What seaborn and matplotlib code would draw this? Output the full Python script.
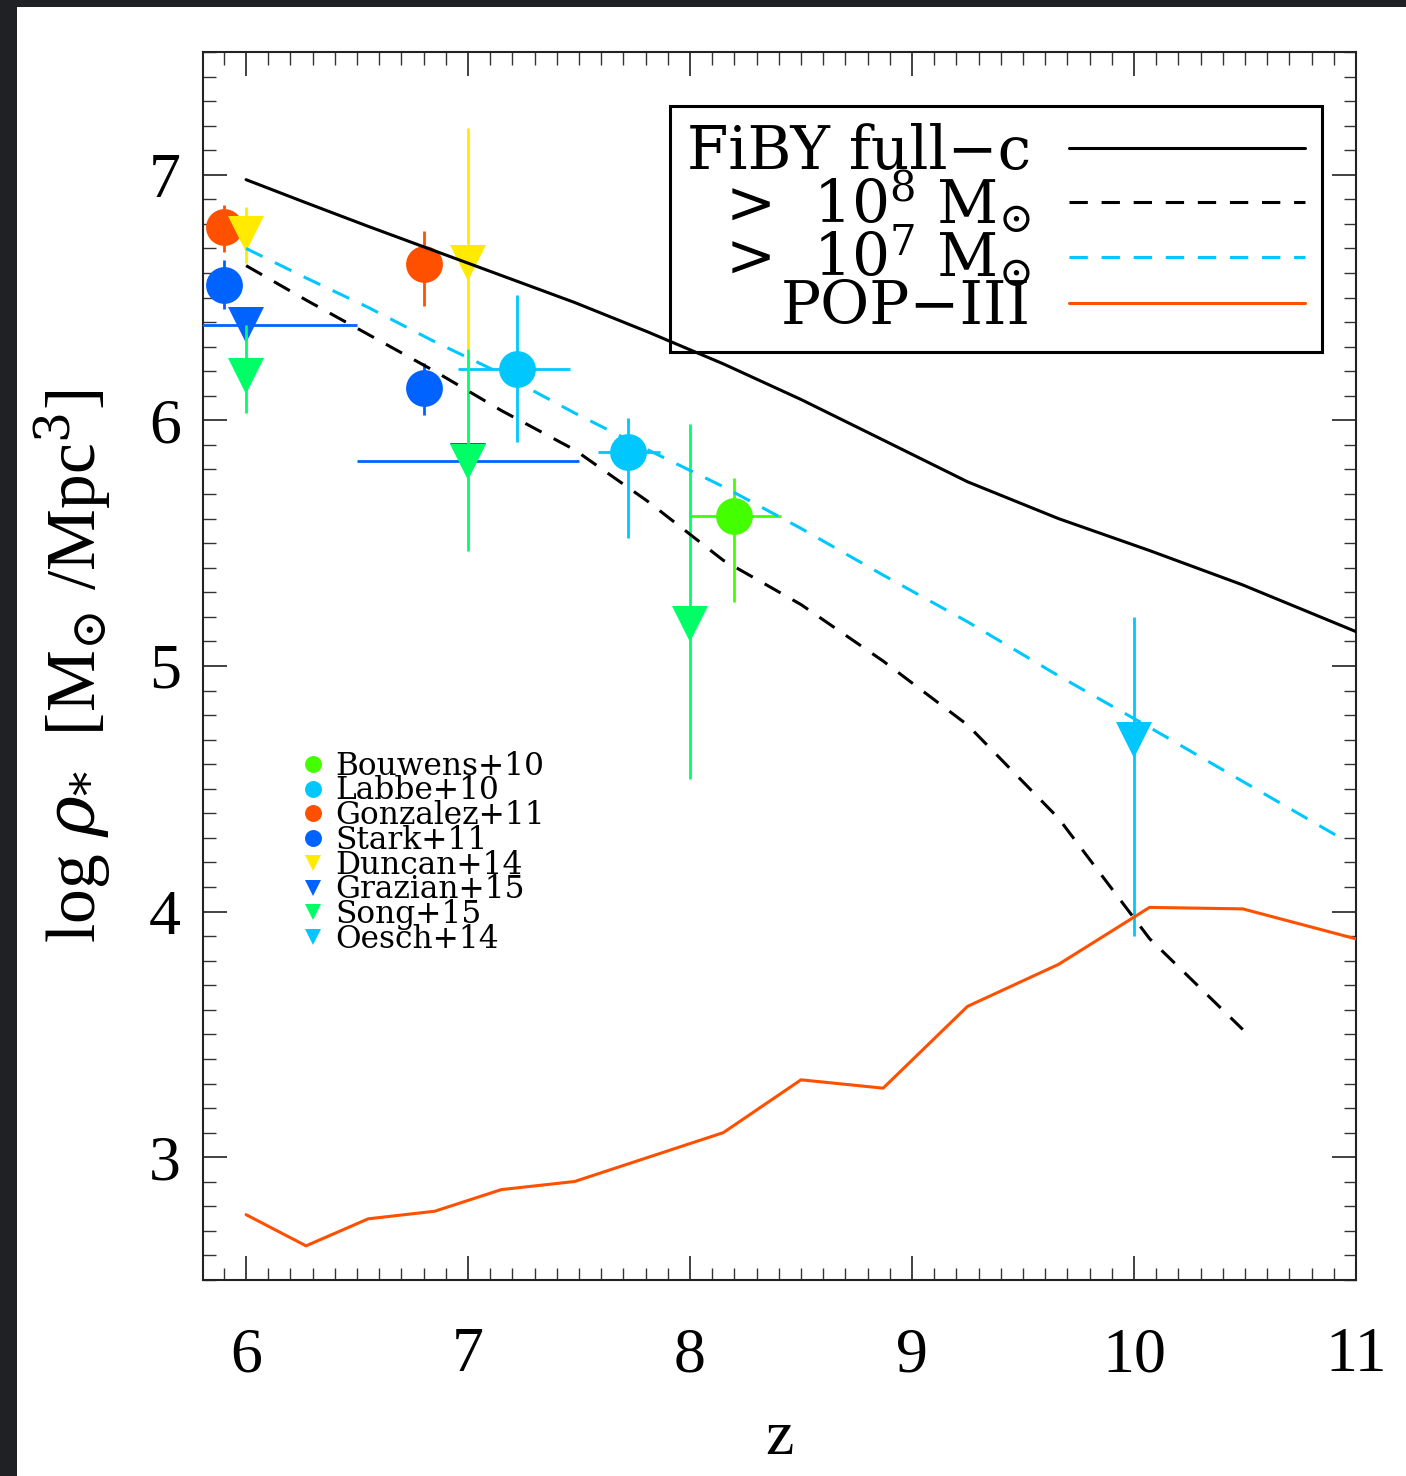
import matplotlib
matplotlib.use("Agg")
import matplotlib.pyplot as plt
import seaborn as sns
import numpy as np
import pandas as pd
from matplotlib.patches import Rectangle
from matplotlib.ticker import MultipleLocator

# ---------------- model curves (FiBY) ----------------
z_full = [6.0, 6.27, 6.55, 6.85, 7.15, 7.48, 7.81, 8.15, 8.5, 8.87, 9.25, 9.66, 10.07, 10.49, 11.0]
rho_full = [6.98, 6.886, 6.79, 6.69, 6.59, 6.48, 6.36, 6.23, 6.085, 5.92, 5.75, 5.60, 5.47, 5.33, 5.14]

z_m8 = [6.0, 6.27, 6.55, 6.85, 7.15, 7.48, 7.81, 8.15, 8.5, 8.87, 9.25, 9.66, 10.07, 10.49]
rho_m8 = [6.63, 6.49, 6.35, 6.20, 6.04, 5.88, 5.67, 5.43, 5.25, 5.02, 4.76, 4.38, 3.89, 3.52]

z_m7 = [6.0, 6.27, 6.55, 6.85, 7.15, 7.48, 7.81, 8.15, 8.5, 8.87, 9.25, 9.66, 10.07, 10.49, 10.95]
rho_m7 = [6.70, 6.58, 6.46, 6.32, 6.19, 6.03, 5.88, 5.73, 5.56, 5.37, 5.18, 4.96, 4.75, 4.53, 4.29]

z_pop3 = [6.0, 6.27, 6.55, 6.85, 7.15, 7.48, 8.15, 8.5, 8.87, 9.25, 9.66, 10.07, 10.49, 11.0]
rho_pop3 = [2.766, 2.639, 2.749, 2.780, 2.868, 2.901, 3.100, 3.315, 3.281, 3.614, 3.785, 4.017, 4.011, 3.889]

model_labels = ["FiBY full\u2212c", r">  10$^{8}$ M$_{\odot}$", r">  10$^{7}$ M$_{\odot}$", "POP\u2212III"]

# ---------------- observations ----------------
bouwens_z = [8.2]; bouwens_rho = [5.61]
bouwens_ylo = [0.35]; bouwens_yhi = [0.155]; bouwens_zlo = [0.2]; bouwens_zhi = [0.21]

labbe_z = [7.22, 7.72]; labbe_rho = [6.21, 5.87]
labbe_ylo = [0.30, 0.35]; labbe_yhi = [0.30, 0.14]; labbe_zlo = [0.265, 0.135]; labbe_zhi = [0.24, 0.145]

gonzalez_z = [5.9, 6.8]; gonzalez_rho = [6.786, 6.637]
gonzalez_ylo = [0.10, 0.17]; gonzalez_yhi = [0.09, 0.135]

stark_z = [5.9, 6.8]; stark_rho = [6.553, 6.133]
stark_ylo = [0.10, 0.11]; stark_yhi = [0.10, 0.10]

duncan_z = [6.0, 7.0]; duncan_rho = [6.76, 6.64]
duncan_ylo = [0.12, 0.35]; duncan_yhi = [0.11, 0.55]

grazian_z = [6.0, 7.0]; grazian_rho = [6.39, 5.835]
grazian_zlo = [0.5, 0.5]; grazian_zhi = [0.5, 0.5]

song_z = [6.0, 7.0, 8.0]; song_rho = [6.18, 5.83, 5.17]
song_ylo = [0.15, 0.36, 0.63]; song_yhi = [0.21, 0.46, 0.815]

oesch_z = [10.0]; oesch_rho = [4.70]
oesch_ylo = [0.80]; oesch_yhi = [0.50]

obs_labels = ["Bouwens+10", "Labbe+10", "Gonzalez+11", "Stark+11",
              "Duncan+14", "Grazian+15", "Song+15", "Oesch+14"]

x_ticks = [6, 7, 8, 9, 10, 11]
y_ticks = [3, 4, 5, 6, 7]

# ---------------- style ----------------
sns.set_theme(style="ticks")
plt.rcParams["font.family"] = ["Liberation Serif", "DejaVu Serif"]
plt.rcParams["mathtext.fontset"] = "dejavuserif"
plt.rcParams["text.color"] = "black"
plt.rcParams["axes.labelcolor"] = "black"

fig = plt.figure(figsize=(14.06, 14.76), dpi=100)
fig.patch.set_facecolor("white")
fig.patches.append(Rectangle((0, 0), 17 / 1406, 1, transform=fig.transFigure,
                             facecolor="#1f2125", edgecolor="none", zorder=-5))
fig.patches.append(Rectangle((0, 1 - 7 / 1476), 1, 7 / 1476, transform=fig.transFigure,
                             facecolor="#1f2125", edgecolor="none", zorder=-5))

ax = fig.add_axes([0.1444, 0.1328, 0.82, 0.832])

BLACK = "black"
CYAN = "#00c8ff"
ORANGE = "#ff5000"
GREEN_B = "#44ff00"
BLUE = "#0062ff"
YELLOW = "#ffea00"
GREEN_S = "#00ff66"

MS = 26.5
ELW = 2.0

def obs(zv, rv, color, marker, label, zo, ylo=None, yhi=None, zlo=None, zhi=None):
    yerr = None if ylo is None else [ylo, yhi]
    xerr = None if zlo is None else [zlo, zhi]
    ax.errorbar(zv, rv, yerr=yerr, xerr=xerr, fmt="none", ecolor=color,
                elinewidth=ELW, capsize=0, zorder=zo)
    ax.plot(zv, rv, linestyle="none", marker=marker, markersize=MS, color=color,
            markeredgewidth=0, label=label, zorder=zo + 0.5)

obs(bouwens_z, bouwens_rho, GREEN_B, "o", obs_labels[0], 3, bouwens_ylo, bouwens_yhi, bouwens_zlo, bouwens_zhi)
obs(labbe_z, labbe_rho, CYAN, "o", obs_labels[1], 4, labbe_ylo, labbe_yhi, labbe_zlo, labbe_zhi)
obs(gonzalez_z, gonzalez_rho, ORANGE, "o", obs_labels[2], 5, gonzalez_ylo, gonzalez_yhi)
obs(stark_z, stark_rho, BLUE, "o", obs_labels[3], 6, stark_ylo, stark_yhi)
obs(duncan_z, duncan_rho, YELLOW, "v", obs_labels[4], 7, duncan_ylo, duncan_yhi)
obs(grazian_z, grazian_rho, BLUE, "v", obs_labels[5], 8, None, None, grazian_zlo, grazian_zhi)
obs(song_z, song_rho, GREEN_S, "v", obs_labels[6], 9, song_ylo, song_yhi)
obs(oesch_z, oesch_rho, CYAN, "v", obs_labels[7], 10, oesch_ylo, oesch_yhi)

obs_handles = list(ax.lines)

# model lines via seaborn
LW = 2.2
dash = (0, (6, 4.5))
sns.lineplot(x=z_full, y=rho_full, sort=False, color=BLACK, linewidth=LW, ax=ax, zorder=12)
sns.lineplot(x=z_m8, y=rho_m8, sort=False, color=BLACK, linewidth=LW, linestyle=dash, ax=ax, zorder=12)
sns.lineplot(x=z_m7, y=rho_m7, sort=False, color=CYAN, linewidth=LW, linestyle=dash, ax=ax, zorder=12)
sns.lineplot(x=z_pop3, y=rho_pop3, sort=False, color=ORANGE, linewidth=LW, ax=ax, zorder=12)
model_handles = list(ax.lines)[len(obs_handles):]

# axes
ax.set_xlim(5.806, 11.0)
ax.set_ylim(2.5, 7.5)
ax.set_xticks(x_ticks)
ax.set_yticks(y_ticks)
ax.xaxis.set_minor_locator(MultipleLocator(0.1))
ax.yaxis.set_minor_locator(MultipleLocator(0.1))
ax.tick_params(which="both", direction="in", top=True, right=True, colors="#333333")
ax.tick_params(which="major", length=17, width=1.3, labelsize=46, labelcolor="black")
ax.tick_params(axis="x", which="major", pad=34)
ax.tick_params(axis="y", which="major", pad=16)
ax.tick_params(which="minor", length=9, width=1.0)
for s in ax.spines.values():
    s.set_linewidth(1.5)
    s.set_color("#222222")

ax.set_xlabel("z", fontsize=46, labelpad=18)
ax.set_ylabel(r"log $\rho_{*}$  [M$_{\odot}$ /Mpc$^{3}$]", fontsize=50, labelpad=26)

# legend for models (text left, line right)
leg1 = ax.legend(model_handles, model_labels, loc="upper right",
                 bbox_to_anchor=(0.9705, 0.956), borderaxespad=0,
                 prop={"family": "DejaVu Serif", "size": 43},
                 markerfirst=False, handlelength=3.95,
                 handletextpad=0.64, labelspacing=-0.2, borderpad=0.28,
                 frameon=True, fancybox=False, framealpha=1, edgecolor="black")
leg1.get_frame().set_linewidth(2.2)
ax.add_artist(leg1)

leg2 = ax.legend(obs_handles, obs_labels, loc="upper left",
                 bbox_to_anchor=(0.0885, 0.431), borderaxespad=0, borderpad=0,
                 frameon=False, markerscale=0.46, handlelength=0.5,
                 handletextpad=0.47, labelspacing=-0.2,
                 prop={"family": "DejaVu Serif", "size": 22.5})

fig.savefig("out.png", dpi=100, facecolor="white")
